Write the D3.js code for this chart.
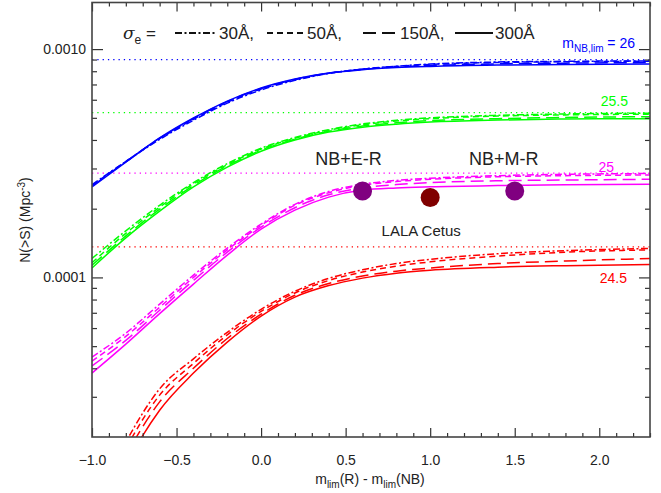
<!DOCTYPE html>
<html><head><meta charset="utf-8">
<script src="https://cdn.jsdelivr.net/npm/d3@7"></script>
<style>
body{margin:0;background:#fff;}
svg{font-family:"Liberation Sans",Arial,Helvetica,sans-serif;}
</style></head>
<body><svg id="c" width="661" height="493"></svg>
<script>
// x grid: m_lim(R) - m_lim(NB)
const xVals = [-1.0,-0.8,-0.6,-0.4,-0.2,0.0,0.2,0.4,0.6,0.8,1.0,1.4,1.8,2.3];
// N(>S) in units of 1e-4 Mpc^-3 ; order: 30A (dash-dot), 50A (short dash), 150A (long dash), 300A (solid)
const blue30  = [2.55,3.22,4.02,4.88,5.80,6.62,7.30,7.82,8.18,8.42,8.60,8.78,8.84,8.88];
const blue50  = [2.53,3.22,4.05,4.93,5.85,6.68,7.34,7.84,8.17,8.40,8.56,8.74,8.80,8.85];
const blue150 = [2.51,3.21,4.07,4.96,5.89,6.72,7.37,7.85,8.15,8.35,8.47,8.62,8.68,8.73];
const blue300 = [2.49,3.20,4.08,4.99,5.92,6.75,7.39,7.85,8.13,8.30,8.40,8.51,8.56,8.60];
const green30  = [1.21,1.60,2.07,2.60,3.15,3.68,4.10,4.44,4.70,4.88,5.00,5.13,5.20,5.24];
const green50  = [1.16,1.56,2.03,2.57,3.12,3.65,4.07,4.41,4.66,4.84,4.96,5.09,5.15,5.19];
const green150 = [1.13,1.52,1.99,2.53,3.08,3.61,4.03,4.37,4.60,4.76,4.86,4.96,5.02,5.06];
const green300 = [1.10,1.49,1.95,2.49,3.04,3.57,4.00,4.33,4.55,4.69,4.79,4.89,4.94,4.96];
const mag30  = [0.448,0.570,0.764,1.023,1.344,1.712,2.09,2.38,2.56,2.66,2.72,2.79,2.83,2.85];
const mag50  = [0.430,0.552,0.740,1.000,1.320,1.690,2.07,2.35,2.53,2.63,2.69,2.76,2.79,2.81];
const mag150 = [0.410,0.530,0.718,0.970,1.290,1.660,2.02,2.30,2.47,2.55,2.60,2.65,2.67,2.69];
const mag300 = [0.381,0.510,0.694,0.935,1.252,1.627,1.971,2.247,2.412,2.466,2.494,2.525,2.543,2.556];
const red30  = [0.095,0.19,0.325,0.44,0.575,0.725,0.87,0.99,1.08,1.15,1.20,1.27,1.31,1.34];
const red50  = [0.088,0.178,0.305,0.42,0.56,0.71,0.855,0.97,1.055,1.12,1.17,1.24,1.29,1.32];
const red150 = [0.08,0.165,0.285,0.40,0.54,0.69,0.835,0.94,1.015,1.065,1.10,1.15,1.18,1.21];
const red300 = [0.0707,0.150,0.262,0.381,0.521,0.677,0.820,0.921,0.993,1.044,1.076,1.109,1.126,1.140];
// asymptote (dotted) levels, 1e-4 Mpc^-3
const limitLevels = [9.0,5.27,2.86,1.36];
const limitLabels = ["26","25.5","25","24.5"];
// observed points
const obsX = [0.6,1.0,1.5];
const obsY = [2.39,2.24,2.39];
const obsNames = ["NB+E-R","LALA Cetus","NB+M-R"];
// axis ticks
const xMajor = [-1.0,-0.5,0.0,0.5,1.0,1.5,2.0];
const yMajor = [1e-4,1e-3];
const legendLabels = ["30Å,","50Å,","150Å,","300Å"];

const colors = ["#0000ff","#00ff00","#ff00ff","#ff0000"];
const dashes = ["7,2.5,2,2.5","6,4","13,6",null];
const groups = [[blue30,blue50,blue150,blue300],[green30,green50,green150,green300],
                [mag30,mag50,mag150,mag300],[red30,red50,red150,red300]];

const L=92,R=650,T=2.5,B=437;
const svg = d3.select("#c");
const x = d3.scaleLinear().domain([-1,2.3]).range([L,R]);
const y = d3.scaleLog().domain([2e-5,1.6e-3]).range([B,T]);

svg.append("defs").append("clipPath").attr("id","clip")
  .append("rect").attr("x",L).attr("y",T).attr("width",R-L).attr("height",B-T);

const plot = svg.append("g").attr("clip-path","url(#clip)");
plot.selectAll("line.lim").data(limitLevels).join("line")
  .attr("x1",L).attr("x2",R).attr("y1",d=>y(d*1e-4)).attr("y2",d=>y(d*1e-4))
  .attr("stroke",(d,i)=>colors[i]).attr("stroke-width",1.2).attr("stroke-dasharray","1.3,4");

const line = d3.line().x((d,i)=>x(xVals[i])).y(d=>y(d*1e-4)).curve(d3.curveMonotoneX);
groups.forEach((g,gi)=>{
  g.forEach((s,si)=>{
    plot.append("path").attr("d",line(s)).attr("fill","none")
      .attr("stroke",colors[gi]).attr("stroke-width",1.5)
      .attr("stroke-dasharray",dashes[si]);
  });
});

const minorX = d3.range(-10,24).map(d=>d/10).filter(v=>Math.abs(v*2-Math.round(v*2))>1e-6);
const minorY = [3,4,5,6,7,8,9].map(d=>d*1e-5).concat([2,3,4,5,6,7,8,9].map(d=>d*1e-4));
const ax = svg.append("g").attr("class","axes");
function style(g){g.select(".domain").remove();g.selectAll("line").attr("stroke","#333").attr("stroke-width",1.2);
  g.selectAll("text").attr("fill","#222").style("font-size","14px");}
ax.append("g").attr("transform",`translate(0,${B})`).call(d3.axisBottom(x).tickValues(xMajor).tickSize(-9).tickPadding(18).tickFormat(d3.format(".1f"))).call(style);
ax.append("g").attr("transform",`translate(0,${B})`).call(d3.axisBottom(x).tickValues(minorX).tickSize(-4).tickFormat("")).call(style);
ax.append("g").attr("transform",`translate(0,${T})`).call(d3.axisTop(x).tickValues(xMajor).tickSize(-9).tickFormat("")).call(style);
ax.append("g").attr("transform",`translate(0,${T})`).call(d3.axisTop(x).tickValues(minorX).tickSize(-4).tickFormat("")).call(style);
ax.append("g").attr("transform",`translate(${L},0)`).call(d3.axisLeft(y).tickValues(yMajor).tickSize(-11).tickPadding(6).tickFormat(d3.format(".4f"))).call(style);
ax.append("g").attr("transform",`translate(${L},0)`).call(d3.axisLeft(y).tickValues(minorY).tickSize(-5).tickFormat("")).call(style);
ax.append("g").attr("transform",`translate(${R},0)`).call(d3.axisRight(y).tickValues(yMajor).tickSize(-11).tickFormat("")).call(style);
ax.append("g").attr("transform",`translate(${R},0)`).call(d3.axisRight(y).tickValues(minorY).tickSize(-5).tickFormat("")).call(style);
svg.append("rect").attr("x",L).attr("y",T).attr("width",R-L).attr("height",B-T)
  .attr("fill","none").attr("stroke","#444").attr("stroke-width",1.6);

const mcol = ["#800080","#800000","#800080"];
svg.selectAll("circle.obs").data(obsX).join("circle")
  .attr("cx",d=>x(d)).attr("cy",(d,i)=>y(obsY[i]*1e-4)).attr("r",9.5).attr("fill",(d,i)=>mcol[i]);
const tcol="#222";
svg.append("text").attr("x",x(0.6)-14).attr("y",165).attr("text-anchor","middle").style("font-size","18px").attr("fill",tcol).text(obsNames[0]);
svg.append("text").attr("x",x(1.5)-11).attr("y",165).attr("text-anchor","middle").style("font-size","18px").attr("fill",tcol).text(obsNames[2]);
svg.append("text").attr("x",x(1.0)-9).attr("y",236).attr("text-anchor","middle").style("font-size","15px").attr("fill",tcol).text(obsNames[1]);

const lab = svg.append("g").style("font-size","14px");
const t26 = lab.append("text").attr("x",635).attr("y",48).attr("text-anchor","end").attr("fill",colors[0]);
t26.append("tspan").text("m");
t26.append("tspan").attr("dy",4).style("font-size","10px").text("NB,lim");
t26.append("tspan").attr("dy",-4).text(" = "+limitLabels[0]);
lab.append("text").attr("x",628).attr("y",106).attr("text-anchor","end").attr("fill",colors[1]).text(limitLabels[1]);
lab.append("text").attr("x",614).attr("y",172).attr("text-anchor","end").attr("fill",colors[2]).text(limitLabels[2]);
lab.append("text").attr("x",627).attr("y",283).attr("text-anchor","end").attr("fill",colors[3]).text(limitLabels[3]);

const lg = svg.append("g").style("font-size","17px").attr("fill","#222");
const sig = lg.append("text").attr("x",123).attr("y",39);
sig.append("tspan").style("font-family","'DejaVu Serif',serif").style("font-style","italic").text("σ");
sig.append("tspan").attr("dy",5).style("font-size","12px").text("e");
sig.append("tspan").attr("dy",-5).text(" =");
const lx = [[175,217],[267,305],[363,398],[455,493]];
lx.forEach((p,i)=>{
  lg.append("line").attr("x1",p[0]).attr("x2",p[1]).attr("y1",33).attr("y2",33)
    .attr("stroke","#111").attr("stroke-width",2).attr("stroke-dasharray",dashes[i]);
  lg.append("text").attr("x",p[1]+2).attr("y",39).text(legendLabels[i]);
});

const xt = svg.append("text").attr("x",370).attr("y",484).attr("text-anchor","middle").style("font-size","14px").attr("fill","#222");
xt.append("tspan").text("m");
xt.append("tspan").attr("dy",4).style("font-size","10px").text("lim");
xt.append("tspan").attr("dy",-4).text("(R) - m");
xt.append("tspan").attr("dy",4).style("font-size","10px").text("lim");
xt.append("tspan").attr("dy",-4).text("(NB)");
const yt = svg.append("text").attr("transform","translate(30,220) rotate(-90)").attr("text-anchor","middle").style("font-size","14px").attr("fill","#222");
yt.append("tspan").text("N(>S) (Mpc");
yt.append("tspan").attr("dy",-5).style("font-size","10px").text("-3");
yt.append("tspan").attr("dy",5).text(")");
</script></body></html>
